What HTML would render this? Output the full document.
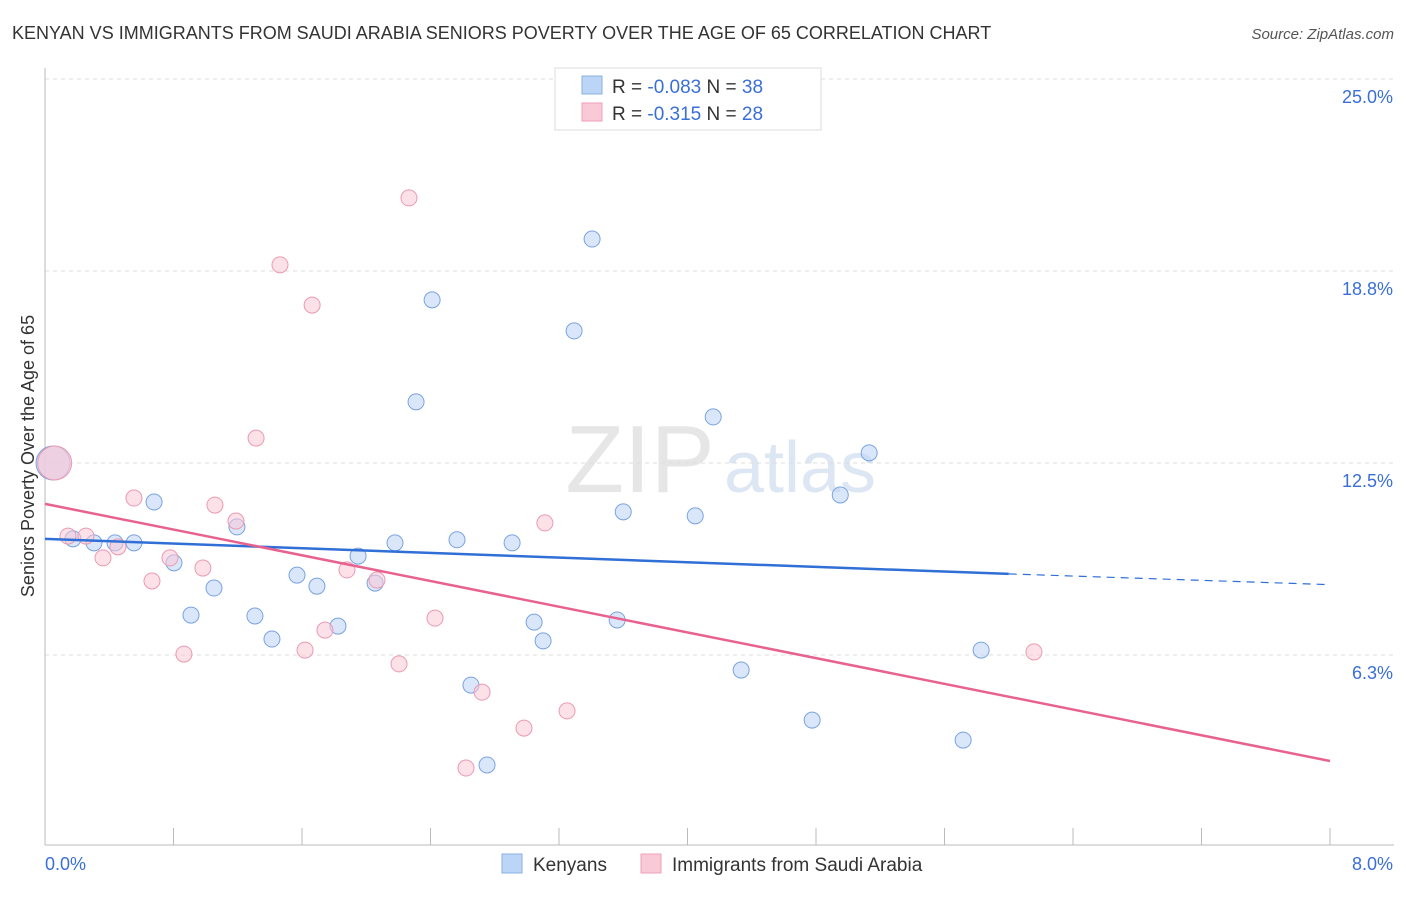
<!DOCTYPE html>
<html><head><meta charset="utf-8"><style>
body{margin:0;background:#fff;font-family:"Liberation Sans",sans-serif;}
svg text{font-family:"Liberation Sans",sans-serif;}
</style></head><body>
<svg id="chart" width="1406" height="892">
<text x="12" y="39" font-size="18" fill="#333">KENYAN VS IMMIGRANTS FROM SAUDI ARABIA SENIORS POVERTY OVER THE AGE OF 65 CORRELATION CHART</text>
<text x="1394" y="39" font-size="15" fill="#555" font-style="italic" text-anchor="end">Source: ZipAtlas.com</text>
<text x="640" y="492" font-size="96" fill="#e6e6e6" font-family="Liberation Serif" text-anchor="middle">ZIP</text>
<text x="800" y="492" font-size="72" fill="#dde6f3" text-anchor="middle">atlas</text>
<g id="grid"></g>
<g id="axes"></g>
<g id="marks"></g>
<text x="34" y="456" font-size="18" fill="#333" text-anchor="middle" transform="rotate(-90 34 456)">Seniors Poverty Over the Age of 65</text>
<g>
<rect x="555" y="68" width="266" height="62" fill="#fff" stroke="#ddd"/>
<rect x="582" y="76" width="20" height="18" fill="#bcd4f5" stroke="#8ab0e6"/>
<rect x="582" y="103" width="20" height="18" fill="#f9c9d7" stroke="#f0a0b8"/>
<text x="612" y="93" font-size="19" fill="#333">R = <tspan fill="#3a6fd8">-0.083</tspan>   N = <tspan fill="#3a6fd8">38</tspan></text>
<text x="612" y="120" font-size="19" fill="#333">R =  <tspan fill="#3a6fd8">-0.315</tspan>   N = <tspan fill="#3a6fd8">28</tspan></text>
</g>
<g>
<rect x="502" y="854" width="20" height="19" fill="#bcd4f5" stroke="#8ab0e6"/>
<text x="533" y="871" font-size="19" fill="#333">Kenyans</text>
<rect x="641" y="854" width="20" height="19" fill="#f9c9d7" stroke="#f0a0b8"/>
<text x="672" y="871" font-size="19" fill="#333">Immigrants from Saudi Arabia</text>
</g>
</svg>
<script>
const yTicks=[6.25,12.5,18.75,25];
const yTickLabels=["6.3%","12.5%","18.8%","25.0%"];
const blueX=[0.174,0.305,0.436,0.554,0.679,0.803,0.909,1.052,1.195,1.307,1.413,1.569,1.693,1.824,1.949,2.055,2.179,2.310,2.410,2.565,2.652,2.752,2.908,3.045,3.101,3.294,3.406,3.562,3.600,4.048,4.160,4.334,4.776,4.951,5.131,5.716,5.828,0.05];
const blueY=[10.03,9.90,9.90,9.90,11.23,9.25,7.55,8.43,10.42,7.52,6.77,8.85,8.49,7.19,9.47,8.59,9.90,14.49,17.81,10.00,5.27,2.67,9.90,7.32,6.71,16.80,19.79,7.39,10.91,10.78,14.00,5.76,4.13,11.46,12.83,3.48,6.41,12.5];
const pinkX=[0.143,0.255,0.361,0.454,0.554,0.666,0.778,0.865,0.983,1.058,1.189,1.314,1.463,1.619,1.663,1.743,1.880,2.067,2.204,2.266,2.428,2.621,2.721,2.982,3.112,3.250,6.157,0.06];
const pinkY=[10.12,10.12,9.41,9.77,11.36,8.66,9.41,6.28,9.08,11.13,10.61,13.31,18.95,6.41,17.64,7.06,9.02,8.69,5.96,21.13,7.45,2.57,5.04,3.87,10.55,4.43,6.35,12.5];
const blueTrend=[10.03,8.89,8.54];
const pinkTrend=[11.17,2.80];
const NS="http://www.w3.org/2000/svg";
const X0=45,X1=1330,XMAX=8,YB=847,YPX=192/6.25;
function sx(v){return X0+(X1-X0)*v/XMAX;}
function sy(v){return YB-v*YPX;}
function mk(tag,attrs,parent){const e=document.createElementNS(NS,tag);for(const k in attrs)e.setAttribute(k,attrs[k]);parent.appendChild(e);return e;}
const grid=document.getElementById('grid'),axes=document.getElementById('axes'),marks=document.getElementById('marks');
yTicks.forEach((t,i)=>{
 const l=mk('line',{x1:X0,x2:1394,y1:sy(t),y2:sy(t),stroke:'#ddd','stroke-dasharray':'4,4'},grid);
 
 
 const tx=mk('text',{x:1393,y:sy(t)+24,'font-size':18,fill:'#3a6fd8','text-anchor':'end'},axes);
 tx.textContent=yTickLabels[i];
 
 
});
const ax=mk('line',{x1:X0,x2:1394,y1:845,y2:845,stroke:'#bbb'},axes);


const ay=mk('line',{x1:X0,x2:X0,y1:68,y2:845,stroke:'#bbb'},axes);


for(let i=0;i<=10;i++){const x=X0+(X1-X0)*i/10;
 const t=mk('line',{x1:x,x2:x,y1:828,y2:845,stroke:'#bbb'},axes);
 
 }
const xl0=mk('text',{x:45,y:870,'font-size':18,fill:'#3a6fd8'},axes);xl0.textContent='0.0%';


const xl1=mk('text',{x:1393,y:870,'font-size':18,fill:'#3a6fd8','text-anchor':'end'},axes);xl1.textContent='8.0%';


function dots(xs,ys,fill,stroke,name){xs.forEach((v,i)=>{const big=i===xs.length-1;
 const c=mk('circle',{cx:sx(v),cy:sy(ys[i]),r:big?17:8,fill:fill,'fill-opacity':big?0.7:0.55,stroke:stroke,'stroke-width':1},marks);
 
 });}
dots(blueX,blueY,'#bcd4f5','#7aa3e0','kenyan-point');
dots(pinkX,pinkY,'#f9c9d7','#eb9ab3','saudi-point');
const bl=mk('line',{x1:sx(0),y1:sy(blueTrend[0]),x2:sx(6.0),y2:sy(blueTrend[1]),stroke:'#2f6fd6','stroke-width':2.5},marks);


const bd=mk('line',{x1:sx(6.0),y1:sy(blueTrend[1]),x2:sx(8),y2:sy(blueTrend[2]),stroke:'#2f6fd6','stroke-width':1.2,'stroke-dasharray':'8,6'},marks);


const pl=mk('line',{x1:sx(0),y1:sy(pinkTrend[0]),x2:sx(8),y2:sy(pinkTrend[1]),stroke:'#e8628f','stroke-width':2.5},marks);


</script>
</body></html>
